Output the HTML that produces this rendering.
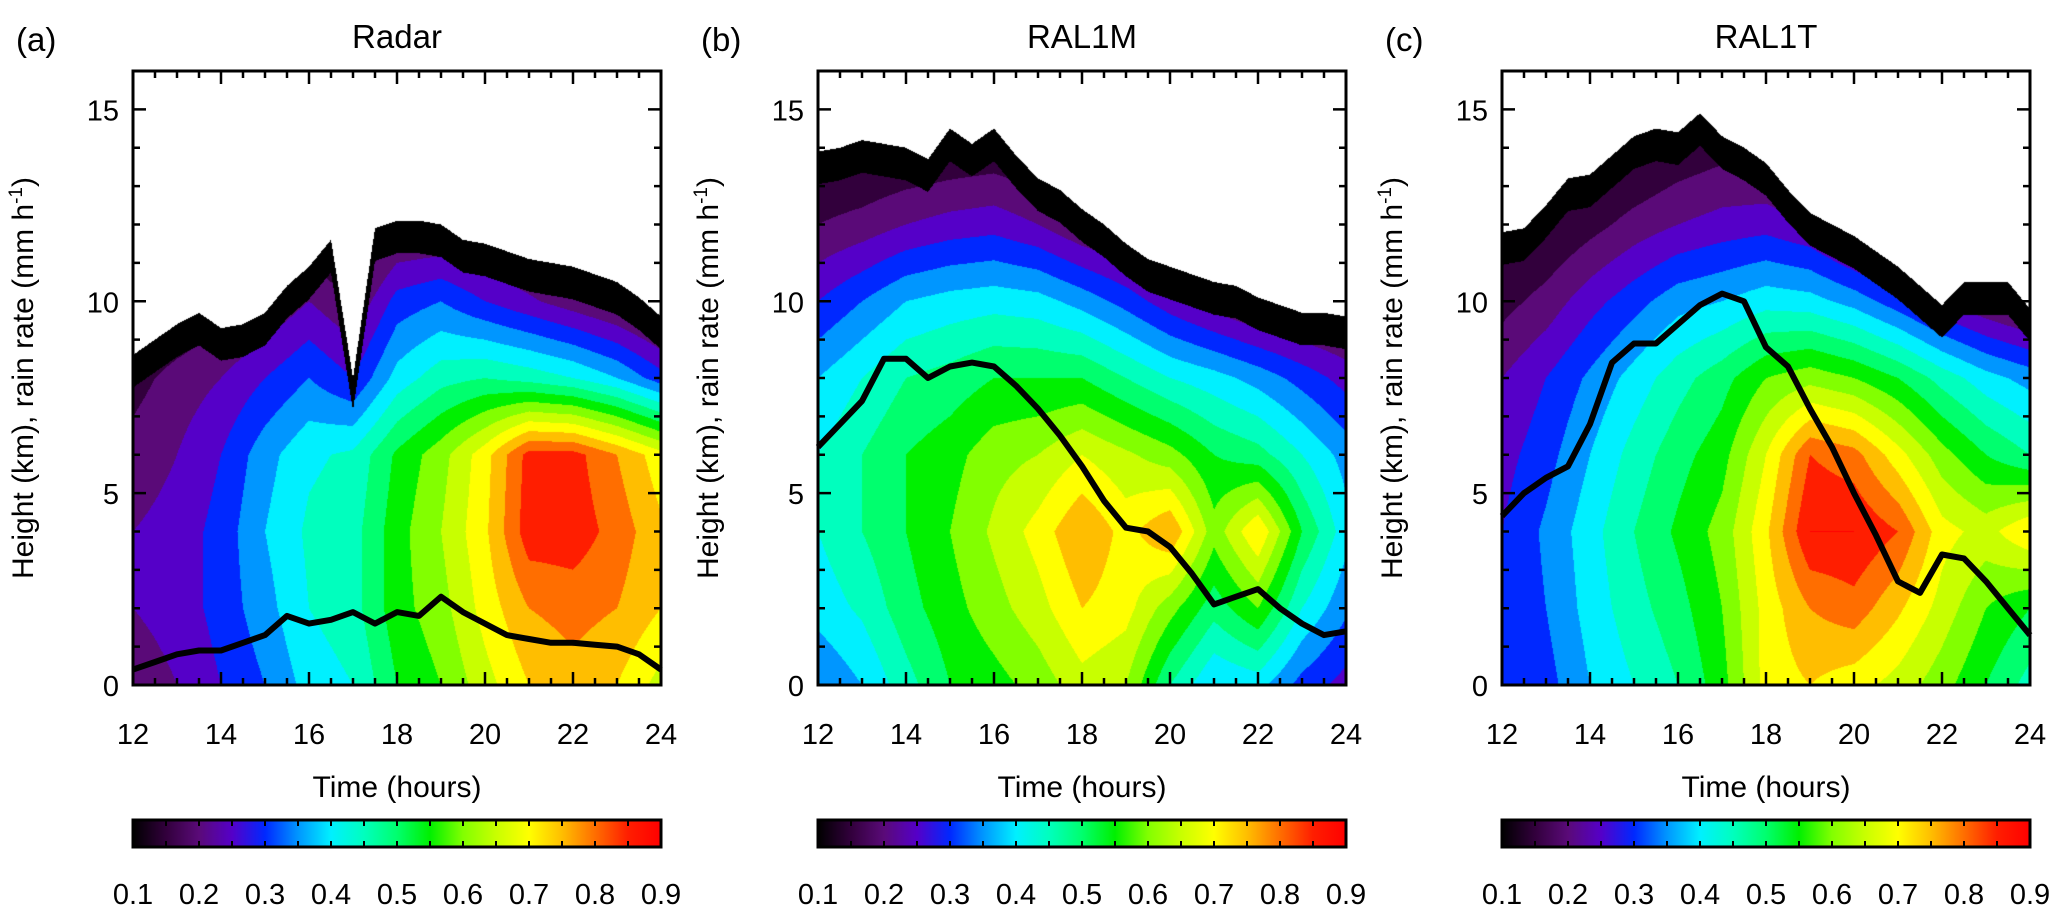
<!DOCTYPE html>
<html><head><meta charset="utf-8"><style>
body{margin:0;background:#fff;width:2067px;height:922px;overflow:hidden;position:relative;font-family:"Liberation Sans",sans-serif}
canvas{position:absolute}
svg{position:absolute;left:0;top:0}
</style></head><body>
<canvas id="c0" width="528" height="614" style="left:133px;top:71px"></canvas>
<canvas id="c1" width="528" height="614" style="left:818px;top:71px"></canvas>
<canvas id="c2" width="528" height="614" style="left:1502px;top:71px"></canvas>
<svg id="s" width="2067" height="922"></svg>
<script>
// ---- data ----
const gridTimes=[12,13,14,15,16,17,18,19,20,21,22,23,24];
const gridHeights=[0,2,4,6,8,10,12,14,16];
const topTimes=[12,12.5,13,13.5,14,14.5,15,15.5,16,16.5,17,17.5,18,18.5,19,19.5,20,20.5,21,21.5,22,22.5,23,23.5,24];
const lineTimes=topTimes;
const titles=["Radar","RAL1M","RAL1T"];
const panelLetters=["(a)","(b)","(c)"];
const xTickLabels=[12,14,16,18,20,22,24];
const yTickLabels=[0,5,10,15];
const cbTickLabels=[0.1,0.2,0.3,0.4,0.5,0.6,0.7,0.8,0.9];

const gridRadar=[
[0.22,0.25,0.30,0.35,0.42,0.45,0.55,0.60,0.68,0.75,0.78,0.75,0.68],
[0.25,0.27,0.32,0.38,0.45,0.48,0.58,0.63,0.72,0.80,0.82,0.80,0.75],
[0.25,0.27,0.32,0.40,0.46,0.48,0.58,0.65,0.74,0.88,0.88,0.83,0.76],
[0.22,0.25,0.30,0.38,0.44,0.46,0.56,0.63,0.73,0.87,0.87,0.80,0.72],
[0.18,0.22,0.25,0.30,0.35,0.30,0.42,0.48,0.50,0.48,0.45,0.40,0.32],
[0.12,0.14,0.17,0.20,0.25,0.20,0.32,0.35,0.30,0.26,0.22,0.18,0.13],
[0.10,0.10,0.10,0.12,0.15,0.10,0.18,0.18,0.16,0.15,0.14,0.12,0.10],
[0.10,0.10,0.10,0.10,0.10,0.10,0.10,0.10,0.10,0.10,0.10,0.10,0.10],
[0.10,0.10,0.10,0.10,0.10,0.10,0.10,0.10,0.10,0.10,0.10,0.10,0.10]];
const gridRAL1M=[
[0.35,0.40,0.48,0.55,0.58,0.62,0.68,0.65,0.50,0.40,0.42,0.33,0.28],
[0.42,0.46,0.53,0.58,0.63,0.68,0.75,0.72,0.62,0.52,0.60,0.45,0.36],
[0.45,0.50,0.55,0.60,0.66,0.72,0.80,0.73,0.80,0.62,0.75,0.55,0.42],
[0.45,0.50,0.55,0.58,0.63,0.65,0.70,0.66,0.62,0.55,0.52,0.45,0.38],
[0.40,0.45,0.50,0.52,0.55,0.55,0.55,0.50,0.45,0.42,0.38,0.33,0.28],
[0.30,0.35,0.40,0.42,0.43,0.42,0.38,0.33,0.27,0.22,0.18,0.16,0.15],
[0.20,0.22,0.25,0.27,0.28,0.25,0.20,0.17,0.12,0.10,0.10,0.10,0.10],
[0.13,0.13,0.14,0.15,0.16,0.14,0.10,0.10,0.10,0.10,0.10,0.10,0.10],
[0.10,0.10,0.10,0.10,0.10,0.10,0.10,0.10,0.10,0.10,0.10,0.10,0.10]];
const gridRAL1T=[
[0.30,0.33,0.40,0.45,0.50,0.58,0.72,0.75,0.72,0.68,0.62,0.55,0.48],
[0.30,0.35,0.42,0.48,0.53,0.60,0.72,0.80,0.83,0.76,0.68,0.60,0.55],
[0.30,0.36,0.43,0.50,0.56,0.62,0.74,0.90,0.90,0.85,0.72,0.68,0.75],
[0.28,0.33,0.40,0.47,0.53,0.58,0.70,0.85,0.82,0.72,0.62,0.55,0.50],
[0.25,0.30,0.36,0.42,0.48,0.53,0.60,0.63,0.60,0.55,0.48,0.42,0.38],
[0.18,0.22,0.28,0.33,0.38,0.40,0.43,0.42,0.38,0.32,0.25,0.20,0.16],
[0.12,0.14,0.18,0.22,0.25,0.27,0.28,0.25,0.18,0.14,0.12,0.10,0.10],
[0.10,0.10,0.11,0.13,0.16,0.18,0.17,0.13,0.10,0.10,0.10,0.10,0.10],
[0.10,0.10,0.10,0.10,0.10,0.10,0.10,0.10,0.10,0.10,0.10,0.10,0.10]];

const topRadar=[8.6,9.0,9.4,9.7,9.3,9.4,9.7,10.4,10.9,11.6,8.0,11.9,12.1,12.1,12.0,11.6,11.5,11.3,11.1,11.0,10.9,10.7,10.5,10.1,9.6];
const topRAL1M=[13.9,14.0,14.2,14.1,14.0,13.7,14.5,14.1,14.5,13.8,13.2,12.9,12.4,12.0,11.5,11.1,10.9,10.7,10.5,10.4,10.1,9.9,9.7,9.7,9.6];
const topRAL1T=[11.8,11.9,12.5,13.2,13.3,13.8,14.3,14.5,14.4,14.9,14.3,14.0,13.6,12.9,12.3,12.0,11.7,11.3,10.9,10.4,9.9,10.5,10.5,10.5,9.8];

const rainRadar=[0.4,0.6,0.8,0.9,0.9,1.1,1.3,1.8,1.6,1.7,1.9,1.6,1.9,1.8,2.3,1.9,1.6,1.3,1.2,1.1,1.1,1.05,1.0,0.8,0.4];
const rainRAL1M=[6.2,6.8,7.4,8.5,8.5,8.0,8.3,8.4,8.3,7.8,7.2,6.5,5.7,4.8,4.1,4.0,3.6,2.9,2.1,2.3,2.5,2.0,1.6,1.3,1.4];
const rainRAL1T=[4.4,5.0,5.4,5.7,6.8,8.4,8.9,8.9,9.4,9.9,10.2,10.0,8.8,8.3,7.2,6.2,5.0,3.9,2.7,2.4,3.4,3.3,2.7,2.0,1.3];

const grids=[gridRadar,gridRAL1M,gridRAL1T];
const tops=[topRadar,topRAL1M,topRAL1T];
const rains=[rainRadar,rainRAL1M,rainRAL1T];

// ---- layout ----
const lefts=[133,818,1502], W=528, T=71, B=685, H=B-T;
const X=(i,t)=>lefts[i]+(t-12)/12*W;
const Y=h=>B-h/16*H;
const cmStops=[[0.1,[0,0,0]],[0.15,[50,0,60]],[0.2,[90,10,120]],[0.25,[85,0,200]],[0.3,[0,40,255]],[0.35,[0,150,255]],[0.4,[0,240,255]],[0.45,[0,255,190]],[0.5,[0,255,110]],[0.55,[0,240,0]],[0.6,[130,255,0]],[0.65,[200,255,0]],[0.7,[255,255,0]],[0.75,[255,190,0]],[0.8,[255,110,0]],[0.85,[255,30,0]],[0.9,[255,0,0]]];
function cmap(v){v=Math.max(0.1,Math.min(0.9,v));for(let k=0;k<cmStops.length-1;k++){const a=cmStops[k],b=cmStops[k+1];if(v<=b[0]){const f=(v-a[0])/(b[0]-a[0]);return a[1].map((c,j)=>Math.round(c+(b[1][j]-c)*f));}}return cmStops[cmStops.length-1][1];}
function interp1(xs,ys,x){if(x<=xs[0])return ys[0];for(let k=0;k<xs.length-1;k++){if(x<=xs[k+1]){const f=(x-xs[k])/(xs[k+1]-xs[k]);return ys[k]+(ys[k+1]-ys[k])*f;}}return ys[ys.length-1];}
function grid2(g,t,h){let ci=Math.min(11,Math.floor(t-12));if(ci<0)ci=0;const ft=(t-12-ci);let ri=Math.min(7,Math.floor(h/2));const fh=h/2-ri;
const a=g[ri][ci]*(1-ft)+g[ri][ci+1]*ft, b=g[ri+1][ci]*(1-ft)+g[ri+1][ci+1]*ft;return a*(1-fh)+b*fh;}
for(let p=0;p<3;p++){
 const cv=document.getElementById('c'+p),ctx=cv.getContext('2d'),img=ctx.createImageData(W,H);
 for(let x=0;x<W;x++){const t=12+(x+0.5)/W*12;const top=interp1(topTimes,tops[p],t);
  for(let y=0;y<H;y++){const h=16-(y+0.5)/H*16;let c;
   if(h>top)c=[255,255,255];else if(h>top-0.85)c=[0,0,0];
   else{let v=grid2(grids[p],t,h);v=Math.max(0.15,v);const q=Math.floor(v/0.05+1e-6)*0.05;c=cmap(q);}
   const o=(y*W+x)*4;img.data[o]=c[0];img.data[o+1]=c[1];img.data[o+2]=c[2];img.data[o+3]=255;}}
 ctx.putImageData(img,0,0);
}
// ---- svg ----
const S=document.getElementById('s'),NS='http://www.w3.org/2000/svg';
function el(tag,attrs,parent){const e=document.createElementNS(NS,tag);for(const k in attrs)e.setAttribute(k,attrs[k]);(parent||S).appendChild(e);return e;}
const defs=el('defs',{});
const grad=el('linearGradient',{id:'cbg',x1:0,x2:1,y1:0,y2:0},defs);
cmStops.forEach(s=>{const c=cmap(s[0]);el('stop',{offset:((s[0]-0.1)/0.8*100)+'%','stop-color':`rgb(${c})`},grad);});
for(let p=0;p<3;p++){
 const L=lefts[p];
 const g=el('g',{});
 
 
 const pts=lineTimes.map((t,k)=>X(p,t).toFixed(1)+','+Y(rains[p][k]).toFixed(1)).join(' ');
 const pl=el('polyline',{points:pts,fill:'none',stroke:'#000','stroke-width':6,'stroke-linejoin':'round'},g);
 
 
 const fr=el('rect',{x:L,y:T,width:W,height:H,fill:'none',stroke:'#000','stroke-width':3},g);
 
 
 for(let t=12;t<=24.001;t+=0.5){const x=X(p,t);const maj=Math.abs(t%2)<1e-6;const len=maj?13:7;
  el('line',{x1:x,x2:x,y1:B,y2:B-len,stroke:'#000','stroke-width':2.5},g);
  el('line',{x1:x,x2:x,y1:T,y2:T+len,stroke:'#000','stroke-width':2.5},g);}
 for(let h=0;h<=16;h++){const y=Y(h);const maj=h%5===0;const len=maj?13:7;
  el('line',{x1:L,x2:L+len,y1:y,y2:y,stroke:'#000','stroke-width':2.5},g);
  el('line',{x1:L+W,x2:L+W-len,y1:y,y2:y,stroke:'#000','stroke-width':2.5},g);}
 xTickLabels.forEach(v=>{const tx=el('text',{x:X(p,v),y:744,'font-size':29,'text-anchor':'middle'},g);tx.textContent=v;
  
  });
 yTickLabels.forEach(v=>{const tx=el('text',{x:L-14,y:Y(v)+11,'font-size':29,'text-anchor':'end'},g);tx.textContent=v;
  
  });
 const xt=el('text',{x:L+W/2,y:797,'font-size':30,'text-anchor':'middle'},g);xt.textContent='Time (hours)';
 
 
 const yt=el('text',{x:0,y:0,'font-size':30,'text-anchor':'middle',transform:`translate(${L-100},${T+H/2}) rotate(-90)`},g);
 yt.innerHTML='Height (km), rain rate (mm h<tspan dy="-11" font-size="19">-1</tspan><tspan dy="11">)</tspan>';
 
 
 const ti=el('text',{x:L+W/2,y:48,'font-size':33,'text-anchor':'middle'},g);ti.textContent=titles[p];
 
 
 const pl2=el('text',{x:L-117,y:51,'font-size':33},g);pl2.textContent=panelLetters[p];
 
 
 const cb=el('rect',{x:L,y:820,width:W,height:27,fill:'url(#cbg)',stroke:'#000','stroke-width':3},g);
 
 
 for(let k=1;k<16;k++){const x=L+k*W/16;
  el('line',{x1:x,x2:x,y1:820,y2:826,stroke:'#000','stroke-width':2},g);
  el('line',{x1:x,x2:x,y1:847,y2:841,stroke:'#000','stroke-width':2},g);}
 cbTickLabels.forEach(v=>{const tx=el('text',{x:L+(v-0.1)/0.8*W,y:904,'font-size':29,'text-anchor':'middle'},g);tx.textContent=v.toFixed(1);
  
  });
}
</script>
</body></html>
